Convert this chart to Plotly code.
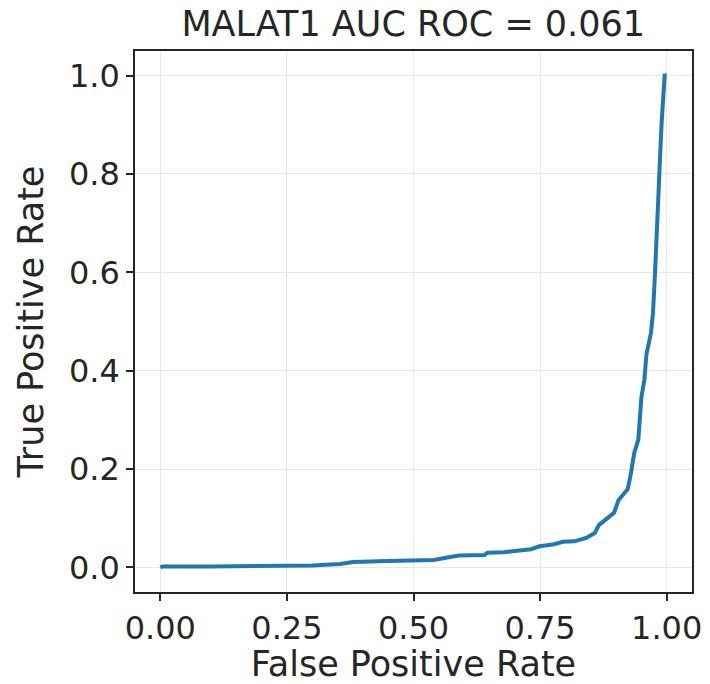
import plotly.graph_objects as go

fpr = [0.0, 0.005, 0.10, 0.20, 0.263, 0.30, 0.355, 0.381, 0.448, 0.494, 0.540, 0.567,
       0.590, 0.640, 0.646, 0.679, 0.732, 0.749, 0.778, 0.795, 0.818, 0.841, 0.858,
       0.866, 0.881, 0.896, 0.905, 0.923, 0.929, 0.936, 0.944, 0.947, 0.950, 0.956,
       0.960, 0.969, 0.973, 0.977, 0.979, 0.982, 0.987, 0.990, 0.993, 0.996, 1.0]
tpr = [0.0, 0.002, 0.002, 0.002, 0.003, 0.004, 0.007, 0.011, 0.013, 0.014, 0.015, 0.020,
       0.024, 0.025, 0.030, 0.031, 0.037, 0.043, 0.047, 0.052, 0.053, 0.060, 0.070,
       0.086, 0.098, 0.111, 0.137, 0.159, 0.189, 0.233, 0.260, 0.314, 0.345, 0.382,
       0.433, 0.477, 0.518, 0.599, 0.653, 0.748, 0.836, 0.904, 0.972, 1.0, 1.0]

x_ticks = [0.0, 0.25, 0.5, 0.75, 1.0]
x_tick_labels = ["0.00", "0.25", "0.50", "0.75", "1.00"]
y_ticks = [0.0, 0.2, 0.4, 0.6, 0.8, 1.0]
y_tick_labels = ["0.0", "0.2", "0.4", "0.6", "0.8", "1.0"]

title = "MALAT1 AUC ROC = 0.061"
x_label = "False Positive Rate"
y_label = "True Positive Rate"

fig = go.Figure()
fig.add_trace(go.Scatter(x=fpr, y=tpr, mode="lines",
                         line=dict(color="#1f77b4", width=4), showlegend=False))

font_color = "#262626"
axis_common = dict(
    showline=True, linecolor="#262626", linewidth=1.5, mirror=True,
    ticks="outside", ticklen=7, tickwidth=1.5, tickcolor="#262626",
    showgrid=True, gridcolor="#e8e8e8", gridwidth=1.2, zeroline=False,
    tickfont=dict(size=32, color=font_color), automargin=False,
)
fig.update_layout(
    width=710, height=684,
    margin=dict(l=135, r=18, t=51, b=92),
    plot_bgcolor="white", paper_bgcolor="white",
    font=dict(family="DejaVu Sans", color=font_color),
    title=dict(text=title, x=0.582, xanchor="center", y=0.965, yanchor="middle",
               font=dict(size=35, color=font_color)),
)
fig.update_xaxes(range=[-0.05, 1.05], tickvals=x_ticks, ticktext=x_tick_labels,
                 title=dict(text=x_label, font=dict(size=35)),
                 **axis_common)
fig.update_yaxes(range=[-0.05, 1.05], tickvals=y_ticks, ticktext=y_tick_labels,
                 title=dict(text=y_label, font=dict(size=35)),
                 **axis_common)

fig.write_html("out.html")
